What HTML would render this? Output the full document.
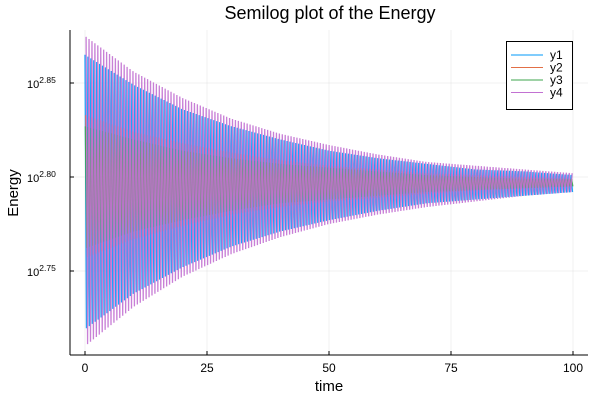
<!DOCTYPE html>
<html><head><meta charset="utf-8"><style>
body{margin:0;background:#fff}
svg text{font-family:"Liberation Sans","DejaVu Sans",sans-serif;fill:#000}
</style></head><body>
<svg id="chart" width="600" height="400">
<rect width="600" height="400" fill="#fff"/>
<text x="330" y="19" font-size="18" text-anchor="middle">Semilog plot of the Energy</text>
<g id="grid"></g>
<g id="series"></g>
<g id="axes"></g>
<text x="329" y="391" font-size="15" text-anchor="middle">time</text>
<text x="18" y="193" font-size="15" text-anchor="middle" transform="rotate(-90 18 193)">Energy</text>
<g>
<rect x="506.5" y="41.5" width="66" height="68" fill="#fff" stroke="#000" stroke-width="1"/>
<g id="legend-items"></g>
</g>
</svg>
<script>
const envT = [0,10,20,30,40,50,60,70,80,90,100];
const y1Upper = [2.865,2.849,2.836,2.827,2.820,2.814,2.810,2.807,2.804,2.803,2.801];
const y1Lower = [2.719,2.738,2.752,2.763,2.771,2.777,2.782,2.786,2.788,2.790,2.792];
const y2Upper = [2.833,2.824,2.818,2.813,2.809,2.806,2.804,2.802,2.801,2.800,2.799];
const y2Lower = [2.757,2.767,2.774,2.780,2.784,2.787,2.789,2.791,2.793,2.794,2.795];
const y3Upper = [2.827,2.820,2.814,2.810,2.807,2.805,2.803,2.801,2.800,2.799,2.799];
const y3Lower = [2.762,2.771,2.777,2.782,2.786,2.788,2.790,2.792,2.793,2.794,2.795];
const y4Upper = [2.875,2.856,2.842,2.831,2.823,2.817,2.812,2.808,2.806,2.804,2.802];
const y4Lower = [2.710,2.731,2.747,2.759,2.768,2.775,2.780,2.784,2.787,2.790,2.792];
const seriesNames = ["y1","y2","y3","y4"];
const period = 0.6;
const xTicks = [0,25,50,75,100];
const yTicks = [2.75,2.80,2.85];

const colors = ["#009af9","#e26f46","#3da44d","#c271d2"];
const phases = [0,0.25,0.12,0.38];
const X0=70,X1=588,Y0=30,Y1=355;
const x = t => 85 + (t-0)*(573-85)/100;
const y = v => 177 - (v-2.80)*(177-83)/0.05;
const NS="http://www.w3.org/2000/svg";
function mk(tag,attrs,parent){const e=document.createElementNS(NS,tag);for(const k in attrs)e.setAttribute(k,attrs[k]);parent.appendChild(e);return e;}
const grid=document.getElementById('grid'),axes=document.getElementById('axes'),sg=document.getElementById('series'),lg=document.getElementById('legend-items');
xTicks.forEach(t=>{
  const l=mk('line',{x1:x(t),x2:x(t),y1:Y0,y2:Y1,stroke:'#000','stroke-opacity':0.1,'stroke-width':0.5},grid);
  
  
  const tk=mk('line',{x1:x(t),x2:x(t),y1:Y1,y2:Y1-4,stroke:'#000'},axes);
  
  
  const tx=mk('text',{x:x(t),y:372,'font-size':12,'text-anchor':'middle'},axes);
  tx.textContent=t;
  
  
});
yTicks.forEach(v=>{
  const l=mk('line',{x1:X0,x2:X1,y1:y(v),y2:y(v),stroke:'#000','stroke-opacity':0.1,'stroke-width':0.5},grid);
  
  
  const tk=mk('line',{x1:X0,x2:X0+4,y1:y(v),y2:y(v),stroke:'#000'},axes);
  
  
  const tx=mk('text',{x:27,y:y(v)+5,'font-size':11},axes);
  
  
  tx.textContent='10';
  const sp=mk('tspan',{dy:-5,'font-size':8.5},tx);
  sp.textContent=v.toFixed(2);
});
mk('line',{x1:X0,x2:X0,y1:Y0,y2:Y1,stroke:'#000'},axes);
mk('line',{x1:X0,x2:X1,y1:Y1,y2:Y1,stroke:'#000'},axes);
function interp(arr,t){let i=Math.min(Math.floor(t/10),envT.length-2);const f=(t-envT[i])/(envT[i+1]-envT[i]);return arr[i]+(arr[i+1]-arr[i])*f;}
const uppers=[y1Upper,y2Upper,y3Upper,y4Upper],lowers=[y1Lower,y2Lower,y3Lower,y4Lower];
seriesNames.forEach((n,s)=>{
  let pts=[];let k=0;
  for(let t=phases[s]*period;t<=100;t+=period/2,k++){
    const v=(k%2===0)?interp(uppers[s],t):interp(lowers[s],t);
    pts.push(x(t).toFixed(2)+','+y(v).toFixed(2));
  }
  const p=mk('polyline',{points:pts.join(' '),fill:'none',stroke:colors[s],'stroke-width':1.3,'stroke-opacity':0.9},sg);
  
  
  const ly=55+s*12.5;
  const ll=mk('line',{x1:511,x2:543,y1:ly,y2:ly,stroke:colors[s],'stroke-width':1},lg);
  
  
  const lt=mk('text',{x:550,y:ly+4,'font-size':12},lg);
  lt.textContent=n;
  
  
});
</script>
</body></html>
